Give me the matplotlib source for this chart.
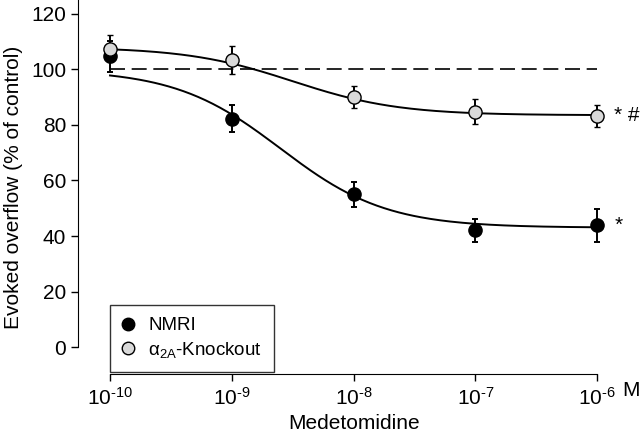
import numpy as np
import matplotlib
matplotlib.use("Agg")
import matplotlib.pyplot as plt
from matplotlib.lines import Line2D

plt.rcParams['font.family'] = ['Liberation Sans', 'DejaVu Sans']
plt.rcParams['mathtext.fontset'] = 'custom'
plt.rcParams['mathtext.rm'] = 'Liberation Sans'
plt.rcParams['mathtext.it'] = 'Liberation Sans:italic'

# Concentrations de medetomidine (M)
conc = [1e-10, 1e-9, 1e-8, 1e-7, 1e-6]

# NMRI
nmri = [104.7, 82.3, 55.0, 42.0, 43.8]
nmri_err = [5.5, 5.0, 4.5, 4.0, 6.0]

# alpha2A knockout
ko = [107.5, 103.5, 90.0, 84.8, 83.3]
ko_err = [5.0, 5.0, 4.0, 4.5, 4.0]

# parametres des courbes (haut, bas, logEC50, pente)
nmri_fit = [100.0, 43.0, -8.6, 1.0]
ko_fit = [108.0, 83.5, -8.5, 1.0]

xticks = [1e-10, 1e-9, 1e-8, 1e-7, 1e-6]
xticklabels = [r'$10^{\text{-10}}$', r'$10^{\text{-9}}$', r'$10^{\text{-8}}$',
               r'$10^{\text{-7}}$', r'$10^{\text{-6}}$']
yticks = [0, 20, 40, 60, 80, 100, 120]


def hill(logx, p):
    top, bottom, ec50, n = p
    return bottom + (top - bottom) / (1 + 10 ** (n * (logx - ec50)))


fig = plt.figure(figsize=(6.4, 4.34), dpi=100)
ax = fig.add_axes([78 / 640, 1 - 374 / 434, 552 / 640, 374 / 434])

lx = np.linspace(-10, -6, 200)
ax.plot(10 ** lx, hill(lx, nmri_fit), color='black', lw=1.4, zorder=2)
ax.plot(10 ** lx, hill(lx, ko_fit), color='black', lw=1.4, zorder=2)
ax.plot([1e-10, 1e-6], [100, 100], color='black', lw=1.2,
        dashes=(9, 4), zorder=1)

ax.errorbar(conc, nmri, yerr=nmri_err, fmt='o', color='black', mfc='black',
            mec='black', ms=9.5, capsize=2.5, elinewidth=1.4, capthick=1.4,
            zorder=3)
ax.errorbar(conc, ko, yerr=ko_err, fmt='o', color='black', mfc='#d9d9d9',
            mec='black', mew=1.0, ms=9.5, capsize=2.5, elinewidth=1.4,
            capthick=1.4, zorder=4)

ax.set_xscale('log')
ax.set_xlim(10 ** -10.263, 10 ** -5.73)
ax.set_ylim(-9.7, 125)
ax.spines['top'].set_visible(False)
ax.spines['right'].set_visible(False)
ax.spines['left'].set_bounds(0, 125)
ax.spines['bottom'].set_bounds(1e-10, 1e-6)
ax.set_xticks(xticks)
ax.set_xticklabels(xticklabels)
ax.minorticks_off()
ax.set_yticks(yticks)
ax.tick_params(direction='out', length=5, width=1, labelsize=15)
ax.tick_params(axis='x', pad=4)

ax.set_ylabel('Evoked overflow (% of control)', fontsize=15, labelpad=6)
ax.set_xlabel('Medetomidine', fontsize=15, labelpad=4)

ax.text(10 ** -5.79, -9.7 - 5.8, 'M', fontsize=15, ha='left', va='center',
        clip_on=False)
ax.text(10 ** -5.86, ko[-1], '* #', fontsize=15, ha='left', va='center')
ax.text(10 ** -5.86, nmri[-1], '*', fontsize=15, ha='left', va='center')

handles = [
    Line2D([], [], ls='none', marker='o', ms=9, mfc='black', mec='black'),
    Line2D([], [], ls='none', marker='o', ms=9, mfc='#d9d9d9', mec='black'),
]
labels = ['NMRI', r'$\mathrm{\alpha}_{\mathrm{2A}}$-Knockout']
leg = ax.legend(handles, labels, loc='lower left',
                bbox_to_anchor=(0.058, 0.005), borderaxespad=0, fontsize=13.5,
                frameon=True, fancybox=False, handletextpad=0.8,
                borderpad=0.65, labelspacing=0.3, handlelength=0.6)
leg.get_frame().set_edgecolor('black')
leg.get_frame().set_linewidth(1.0)

fig.savefig('out.png', dpi=100)
